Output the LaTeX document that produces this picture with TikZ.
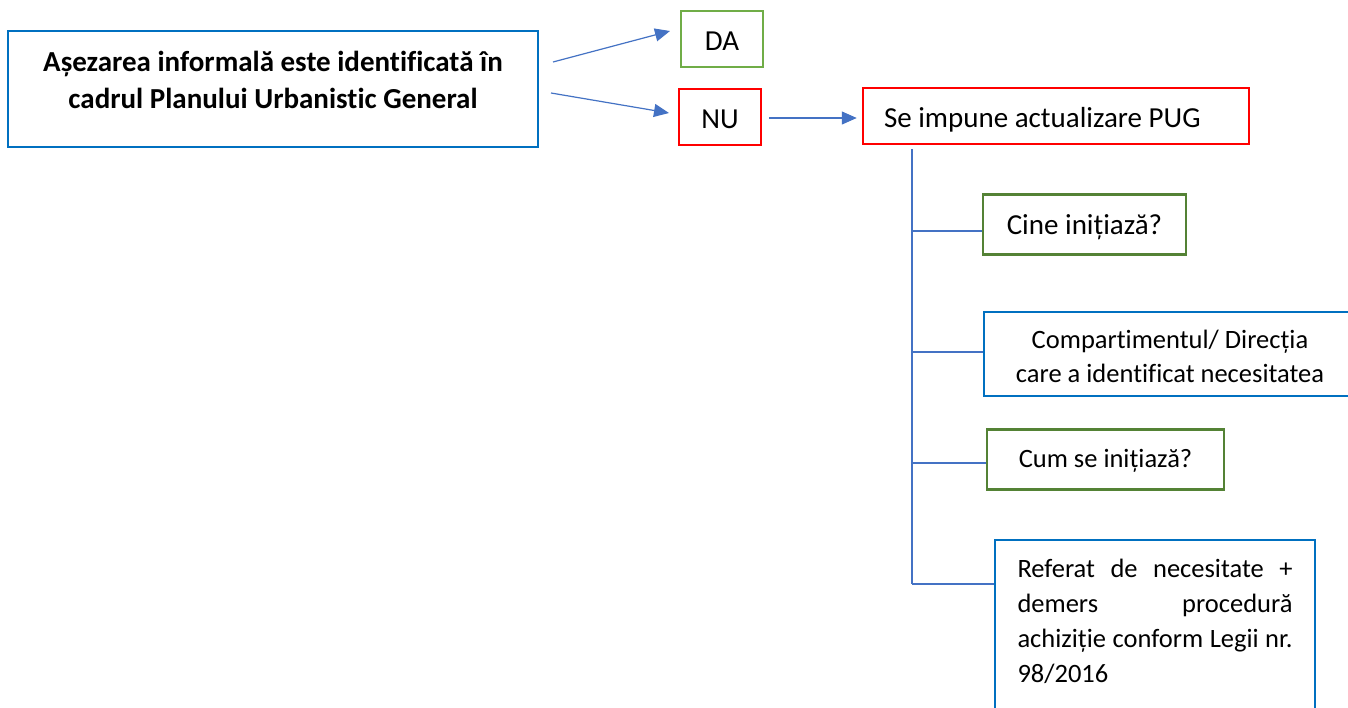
\documentclass[tikz,border=0pt]{standalone}
\usepackage{fontspec}
\setmainfont{Carlito}[Ligatures={NoCommon}]
\usetikzlibrary{arrows.meta}
\definecolor{boxblue}{HTML}{0070C0}
\definecolor{linkblue}{HTML}{4472C4}
\definecolor{lgreen}{HTML}{70AD47}
\definecolor{dgreen}{HTML}{548235}
\definecolor{xred}{HTML}{FF0000}
\newcommand\bigf{\fontsize{29}{35}\selectfont}
\newcommand\smallf{\fontsize{26.5}{34}\selectfont}
\begin{document}
\begin{tikzpicture}[x=1pt,y=-1pt,
  box/.style={draw, line width=2.5pt, inner sep=0pt, rectangle},
  link/.style={draw=linkblue, line width=1.2pt},
  arr/.style={link, -{Triangle[length=15pt,width=13pt]}}]
\useasboundingbox (0,0) rectangle (1348,707);
\clip (0,0) rectangle (1348,707);
\fill[white] (0,0) rectangle (1348,707);
% nodes
\node[box, draw=boxblue, minimum width=530pt, minimum height=116pt,
  text height=0pt, text depth=36pt, font=\fontsize{29}{37}\selectfont\bfseries] (main) at (273,89)
  {\begin{tabular}[t]{@{}c@{}}Așezarea informală este identificată în\\cadrul Planului Urbanistic General\end{tabular}};
\node[box, draw=lgreen, minimum width=82pt, minimum height=56pt, font=\bigf,
  text height=22pt, text depth=0pt] (da) at (722,39) {DA};
\node[box, draw=xred, minimum width=82pt, minimum height=56pt, font=\bigf,
  text height=22pt, text depth=0pt] (nu) at (720,117) {NU};
\node[box, draw=xred, minimum width=386pt, minimum height=56pt, font=\bigf,
  text height=22pt, text depth=0pt] (pug) at (1056,116)
  {\makebox[344pt][l]{Se impune actualizare PUG}};
\node[box, draw=dgreen, minimum width=203pt, minimum height=60pt, font=\bigf,
  text height=19pt, text depth=0pt] (cine) at (1084.5,224.5) {Cine inițiază?};
\node[box, draw=boxblue, minimum width=372pt, minimum height=84pt,
  text height=0pt, text depth=12pt, font=\smallf] (comp) at (1170,354)
  {\begin{tabular}[t]{@{}c@{}}Compartimentul/ Direcția\\care a identificat necesitatea\end{tabular}};
\node[box, draw=dgreen, minimum width=237pt, minimum height=60pt, font=\smallf,
  text height=15pt, text depth=0pt] (cum) at (1105.5,459.5) {Cum se inițiază?};
\node[box, draw=boxblue, minimum width=320pt, minimum height=220pt,
  text height=0pt, text depth=146pt] (ref) at (1155,650)
  {\parbox[t]{275pt}{\fontsize{26.5}{35.3}\selectfont
   \makebox[275pt][s]{Referat de necesitate +}\\
   \makebox[275pt][s]{demers procedură}\\
   \makebox[275pt][s]{achiziție conform Legii nr.}\\
   98/2016}};
% connectors
\coordinate (a1s) at (553,62);
\coordinate (a1e) at (670,31);
\coordinate (a2s) at (551,93);
\coordinate (a2e) at (669,113);
\draw[arr] (a1s) -- (a1e);
\draw[arr] (a2s) -- (a2e);
\coordinate (n3) at ([xshift=7pt,yshift=-1pt]nu.east);
\draw[arr, shorten >=5pt] (n3) -- (n3 -| pug.west);
\coordinate (t0) at (912,149);
\coordinate (t1) at (912,231);
\coordinate (t2) at (912,352);
\coordinate (t3) at (912,463);
\coordinate (t4) at (912,584);
\draw[link] (t0) -- (t4);
\draw[link] (t1) -- (t1 -| cine.west);
\draw[link] (t2) -- (t2 -| comp.west);
\draw[link] (t3) -- (t3 -| cum.west);
\draw[link] (t4) -- (t4 -| ref.west);
\end{tikzpicture}
\end{document}
